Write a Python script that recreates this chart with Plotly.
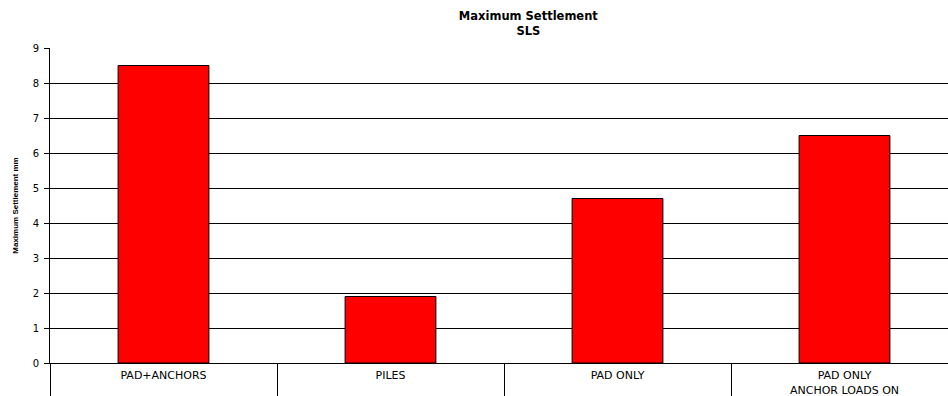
import plotly.graph_objects as go

categories = ["PAD+ANCHORS", "PILES", "PAD ONLY", "PAD ONLY<br>ANCHOR LOADS ON"]
values = [8.5, 1.9, 4.7, 6.5]
y_ticks = [0, 1, 2, 3, 4, 5, 6, 7, 8, 9]

FONT = "DejaVu Sans, Arial, sans-serif"
NARROW = "Liberation Sans Narrow, Arial Narrow, Arial, sans-serif"

fig = go.Figure(go.Bar(
    x=categories, y=values,
    width=0.4,
    marker=dict(color="#FF0000", line=dict(color="#000000", width=1)),
))

fig.update_layout(
    width=948, height=396,
    margin=dict(l=50, r=0, t=48, b=33, pad=0, autoexpand=False),
    paper_bgcolor="white", plot_bgcolor="white",
    showlegend=False,
    font=dict(family=FONT, color="#000000", size=10),
    title=dict(
        text="<b>Maximum Settlement</b><br><b>SLS</b>",
        x=505 / 948, xanchor="center", xref="paper",
        yref="container", y=1 - 20 / 396, yanchor="middle",
        font=dict(family=FONT, size=11.5, color="#000000"),
    ),
)

fig.update_xaxes(
    type="category",
    range=[-0.5, -0.5 + 4 * 898 / 908],
    showline=True, linecolor="#000000", linewidth=1,
    ticks="outside", tickson="boundaries", ticklen=33, tickcolor="#000000", tickwidth=1,
    tickfont=dict(family=FONT, size=11, color="#000000"),
    ticklabelstandoff=2,
    automargin=False,
    showgrid=False, zeroline=False,
)

fig.update_yaxes(
    range=[0, 9], tickvals=y_ticks,
    showline=True, linecolor="#000000", linewidth=1,
    ticks="outside", ticklen=5, tickcolor="#000000",
    tickfont=dict(family=FONT, size=10, color="#000000"),
    ticklabelstandoff=3,
    automargin=False,
    showgrid=True, gridcolor="#000000", gridwidth=1,
    zeroline=False,
    title=dict(text="<b>Maximum Settlement mm</b>", font=dict(family=NARROW, size=8, color="#000000"), standoff=12),
)

fig.write_html("out.html")
